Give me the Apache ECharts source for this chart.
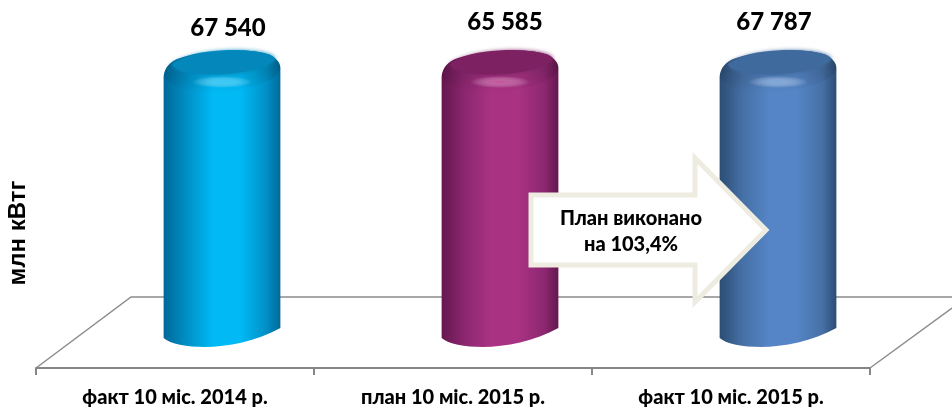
<!DOCTYPE html>
<html>
<head>
<meta charset="utf-8">
<style>
  html, body { margin: 0; padding: 0; background: #fff; }
  #chart { width: 952px; height: 408px; }
</style>
<script src="https://cdn.jsdelivr.net/npm/echarts@6/dist/echarts.min.js"></script>
</head>
<body>
<div id="chart"></div>
<script>
const categories = ["факт 10 міс. 2014 р.", "план 10 міс. 2015 р.", "факт 10 міс. 2015 р."];
const values = [67540, 65585, 67787];
const valueLabels = ["67 540", "65 585", "67 787"];
const axisName = "млн кВтг";
const noteLines = ["План виконано", "на 103,4%"];

// the source chart cuts its axis below all three values, so the bars are level
const axisMax = 65000;

const palette = [
  { mid: "#00B9F5", soft: "#0090C6", edge: "#00689A", cap: "#0487BB", glow: "#45D0FA" },
  { mid: "#A93283", soft: "#8C2770", edge: "#65174F", cap: "#7D2163", glow: "#D05CA8" },
  { mid: "#5585C6", soft: "#4670A6", edge: "#2C4D74", cap: "#3F6A9E", glow: "#8CB4E6" }
];
const labelShift = [[6, 8], [5, 2], [-4, 2]];

const depth = [47, -35];
const font = "Lato, 'Open Sans', 'Noto Sans', sans-serif";

function renderCylinder(params, api) {
  const i = api.value(0);
  const c = palette[i];
  const top = api.coord([i, Math.min(api.value(1), axisMax)]);
  const base = api.coord([i, 0]);
  const x = top[0] + depth[0];
  const yT = top[1] + depth[1];
  const yB = base[1] + depth[1];
  const hw = api.size([1, 0])[0] * 0.21;

  const p = (dx, dy, y0) => (x + dx * hw / 58.5) + " " + (y0 + dy);
  const capTop = "C " + p(-58, 5, yT) + " " + p(-52, -2, yT) + " " + p(-42, -5, yT) +
    " C " + p(-25, -11, yT) + " " + p(-5, -13, yT) + " " + p(12, -13, yT) +
    " C " + p(30, -13, yT) + " " + p(50, -10, yT) + " " + p(55, -3, yT) +
    " C " + p(57.5, 0, yT) + " " + p(58.5, 2, yT) + " " + p(58.5, 5, yT);
  const body = "M " + p(-58.5, 14, yT) + " " + capTop +
    " L " + p(58.5, -5, yB) +
    " C " + p(35, 8, yB) + " " + p(5, 14, yB) + " " + p(-17, 14, yB) +
    " C " + p(-35, 14, yB) + " " + p(-52, 11, yB) + " " + p(-58.5, 5, yB) + " Z";
  const shoulder = "M " + p(-58.5, 14, yT) + " " + capTop +
    " C " + p(58.5, 14, yT) + " " + p(40, 24, yT) + " " + p(0, 30, yT) +
    " C " + p(-25, 32, yT) + " " + p(-50, 26, yT) + " " + p(-58.5, 14, yT) + " Z";
  const cap = "M " + p(-50, 1, yT) +
    " C " + p(-35, -9, yT) + " " + p(-5, -12.5, yT) + " " + p(12, -12.5, yT) +
    " C " + p(32, -12.5, yT) + " " + p(52, -10, yT) + " " + p(53, -4, yT) +
    " C " + p(50, 4, yT) + " " + p(20, 11, yT) + " " + p(-5, 11.5, yT) +
    " C " + p(-30, 12, yT) + " " + p(-48, 8, yT) + " " + p(-50, 1, yT) + " Z";

  return {
    type: "group",
    children: [
      {
        type: "path",
        shape: { pathData: body },
        style: {
          fill: {
            type: "linear", x: 0, y: 0, x2: 1, y2: 0,
            colorStops: [
              { offset: 0, color: c.edge },
              { offset: 0.2, color: c.soft },
              { offset: 0.42, color: c.mid },
              { offset: 0.66, color: c.mid },
              { offset: 0.88, color: c.soft },
              { offset: 1, color: c.edge }
            ]
          }
        }
      },
      {
        type: "path",
        shape: { pathData: shoulder },
        style: {
          fill: {
            type: "linear", x: 0, y: 0, x2: 0, y2: 1,
            colorStops: [
              { offset: 0, color: "rgba(0,0,0,0.18)" },
              { offset: 0.6, color: "rgba(0,0,0,0.08)" },
              { offset: 1, color: "rgba(0,0,0,0)" }
            ]
          }
        }
      },
      {
        type: "path",
        shape: { pathData: cap },
        style: { fill: c.cap, shadowBlur: 4, shadowColor: c.cap }
      },
      {
        type: "circle",
        x: x,
        y: yT + 19,
        scaleY: 0.2,
        shape: { cx: 0, cy: 0, r: 30 },
        style: {
          opacity: 0.75,
          fill: {
            type: "radial", x: 0.5, y: 0.5, r: 0.5,
            colorStops: [
              { offset: 0, color: c.glow },
              { offset: 1, color: "rgba(255,255,255,0)" }
            ]
          }
        }
      },
      {
        type: "text",
        style: {
          text: valueLabels[i],
          x: x + labelShift[i][0],
          y: 20 + labelShift[i][1],
          font: "900 24px " + font,
          fill: "#000",
          align: "center",
          verticalAlign: "middle"
        }
      }
    ]
  };
}

const chart = echarts.init(document.getElementById("chart"));
chart.setOption({
  animation: false,
  backgroundColor: "#fff",
  grid: { left: 36, right: 82, top: 98, bottom: 40, outerBoundsMode: "none" },
  xAxis: {
    type: "category",
    data: categories,
    axisLine: { lineStyle: { color: "#868686", width: 2 } },
    axisTick: { show: true, length: 7, lineStyle: { color: "#868686", width: 2 } },
    axisLabel: { color: "#000", fontFamily: font, fontWeight: 900, fontSize: 20, margin: 20 }
  },
  yAxis: {
    type: "value",
    min: 0,
    max: axisMax,
    name: axisName,
    nameLocation: "middle",
    nameGap: 6,
    nameTextStyle: { color: "#000", fontFamily: "'Liberation Sans', Arial, sans-serif", fontWeight: "bold", fontSize: 24 },
    axisLine: { show: false },
    axisTick: { show: false },
    axisLabel: { show: false },
    splitLine: { show: false }
  },
  graphic: [
    {
      type: "polyline",
      z: 0,
      silent: true,
      shape: { points: [[36, 368], [131, 297], [952, 297]] },
      style: { fill: null, stroke: "#8C8C8C", lineWidth: 1.5 }
    },
    {
      type: "line",
      z: 0,
      silent: true,
      shape: { x1: 870, y1: 368, x2: 952, y2: 308 },
      style: { stroke: "#8C8C8C", lineWidth: 1.5 }
    },
    {
      type: "polygon",
      z: 10,
      silent: true,
      shape: { points: [[531, 195], [695, 195], [695, 158], [766, 230], [695, 302], [695, 265], [531, 265]] },
      style: { fill: "#fff", stroke: "#EEECE1", lineWidth: 5, lineJoin: "miter" }
    },
    {
      type: "text",
      z: 11,
      silent: true,
      style: {
        text: noteLines.join("\n"),
        x: 631,
        y: 232,
        font: "900 20px " + font,
        lineHeight: 26,
        fill: "#000",
        align: "center",
        verticalAlign: "middle"
      }
    }
  ],
  series: [
    {
      type: "custom",
      coordinateSystem: "cartesian2d",
      clip: false,
      silent: true,
      encode: { x: 0, y: 1 },
      data: values.map((v, i) => [i, v]),
      renderItem: renderCylinder
    }
  ]
});
</script>
</body>
</html>
